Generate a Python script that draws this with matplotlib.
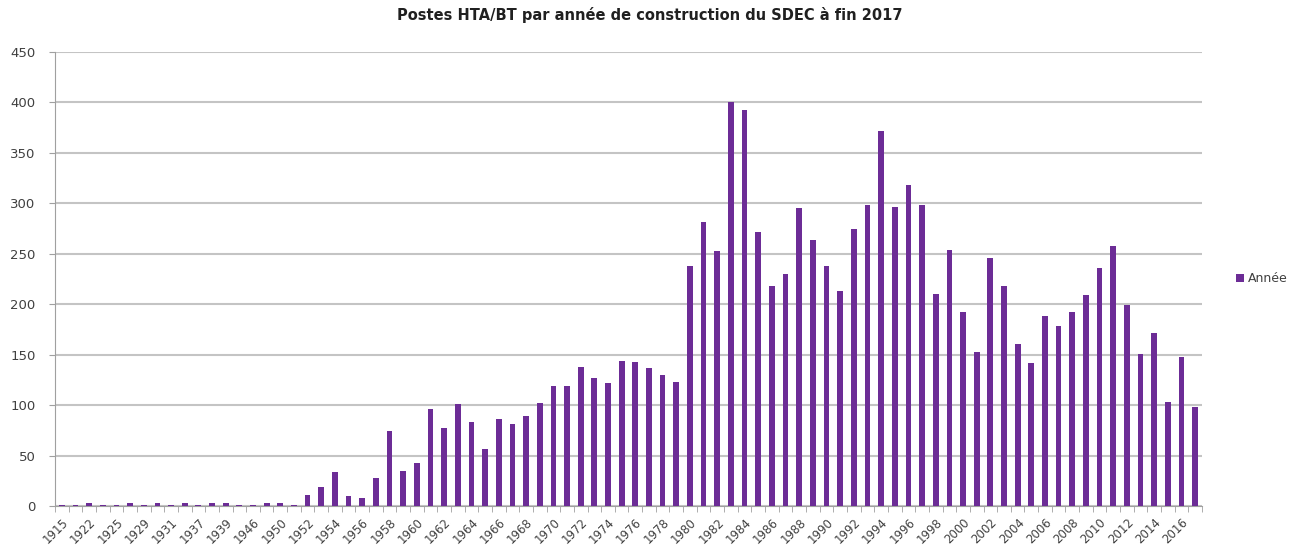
import matplotlib
matplotlib.use('Agg')
from matplotlib import pyplot as plt

# annees intermediaires avant 1952 non lisibles sur le graphique : estimees
years = ['1915', '1920', '1922', '1923', '1925', '1927', '1929', '1930', '1931',
         '1935', '1937', '1938', '1939', '1945', '1946', '1948', '1950', '1951'] + \
        [str(y) for y in range(1952, 2018)]

early = [1, 1, 3, 1, 1, 3, 1, 3, 1, 3, 1, 3, 3, 1, 1, 3, 3, 1]
v1952_1979 = [11, 19, 34, 10, 8, 28, 74, 35, 43, 96, 77, 101, 83, 56, 86, 81, 89,
              102, 119, 119, 138, 127, 122, 144, 143, 137, 130, 123]
v1980_2017 = [238, 281, 253, 400, 392, 271, 218, 230, 295, 263, 238, 213, 274, 298,
              371, 296, 318, 298, 210, 254, 192, 153, 246, 218, 160, 142, 188, 178,
              192, 209, 236, 258, 199, 151, 171, 103, 148, 98]
values = early + v1952_1979 + v1980_2017

purple = '#6C2C96'
fig = plt.figure(figsize=(13, 5.48), dpi=100)
ax = fig.add_axes([0.0423, 0.0766, 0.8823, 0.8291])

x = list(range(len(years)))
ax.bar(x, values, width=0.42, color=purple, label='Année', zorder=3)

ax.set_xlim(-0.5, len(years) - 0.5)
ax.set_ylim(0, 450)
ax.set_yticks(range(0, 451, 50))
ax.yaxis.grid(True, color='#c4c4c4', linewidth=1.5, zorder=0)

ax.set_xticks(x[::2])
ax.set_xticklabels(years[::2], rotation=45, ha='right', rotation_mode='anchor',
                   fontsize=8.5, color='#404040')
ax.set_xticks([i - 0.5 for i in range(len(years) + 1)], minor=True)
ax.tick_params(axis='x', which='major', length=0, pad=7)
ax.tick_params(axis='x', which='minor', length=4, color='#a0a0a0')
ax.tick_params(axis='y', length=4, color='#a0a0a0', labelsize=9.5, labelcolor='#404040', pad=10)

for side in ['top', 'right']:
    ax.spines[side].set_visible(False)
ax.spines['left'].set_color('#a0a0a0')
ax.spines['bottom'].set_color('#a0a0a0')

fig.suptitle('Postes HTA/BT par année de construction du SDEC à fin 2017',
             x=0.5, y=0.988, fontsize=10.5, fontweight='bold', color='#202020')

ax.legend(loc='center left', bbox_to_anchor=(1.02, 0.5), frameon=False,
          fontsize=9, handlelength=0.6, handleheight=0.6, handletextpad=0.3,
          labelcolor='#404040')

fig.savefig('out.png', dpi=100)
